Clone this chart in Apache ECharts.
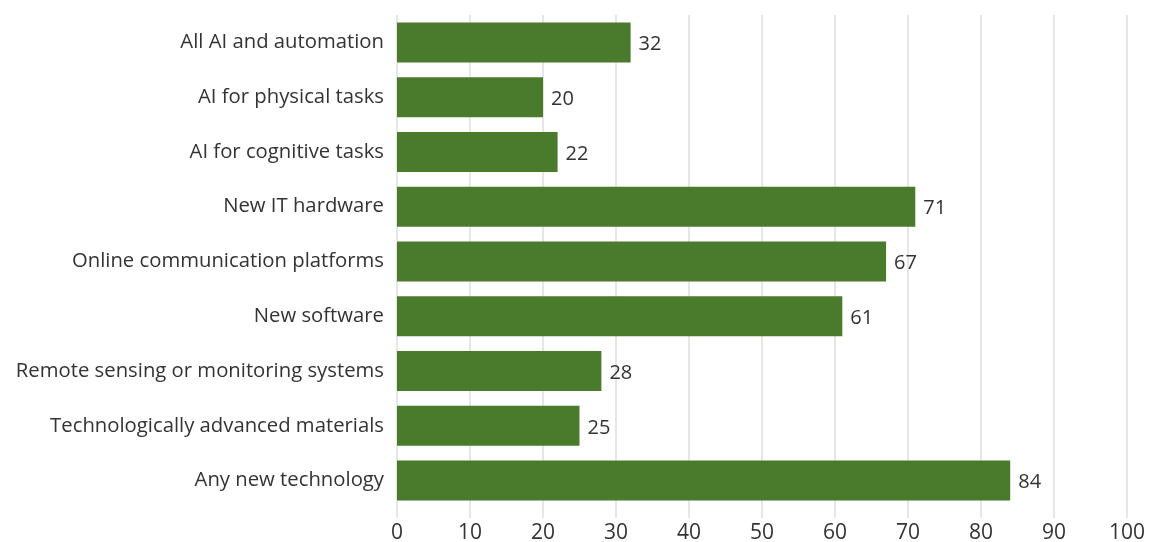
<!DOCTYPE html>
<html>
<head>
<meta charset="utf-8">
<script src="https://cdn.jsdelivr.net/npm/echarts@6/dist/echarts.min.js"></script>
<style>
  html, body { margin: 0; padding: 0; background: #fff; }
  #chart { width: 1155px; height: 542px; }
</style>
</head>
<body>
<div id="chart"></div>
<script>
// Share of firms adopting each technology (%)
const categories = [
  'All AI and automation',
  'AI for physical tasks',
  'AI for cognitive tasks',
  'New IT hardware',
  'Online communication platforms',
  'New software',
  'Remote sensing or monitoring systems',
  'Technologically advanced materials',
  'Any new technology'
];
const values = [32, 20, 22, 71, 67, 61, 28, 25, 84];
const xTicks = [0, 10, 20, 30, 40, 50, 60, 70, 80, 90, 100];

const fontFamily = '"Open Sans", Lato, sans-serif';
const chart = echarts.init(document.getElementById('chart'));
chart.setOption({
  animation: false,
  grid: { left: 397, right: 28, top: 15, bottom: 34, containLabel: false, outerBoundsMode: 'none' },
  xAxis: {
    type: 'value',
    min: xTicks[0],
    max: xTicks[xTicks.length - 1],
    interval: 10,
    axisLine: { show: false },
    axisTick: { show: true, length: 10, lineStyle: { color: '#e6e6e6', width: 2 } },
    splitLine: { show: true, lineStyle: { color: '#e6e6e6', width: 2 } },
    axisLabel: { color: '#333', fontSize: 21, fontFamily, margin: 15 }
  },
  yAxis: {
    type: 'category',
    data: categories,
    inverse: true,
    axisLine: { show: false },
    axisTick: { show: false },
    axisLabel: { color: '#333', fontSize: 20.3, fontFamily, margin: 13 }
  },
  series: [{
    type: 'bar',
    data: values,
    barWidth: 40,
    itemStyle: { color: '#4a7b2c' },
    label: {
      show: true,
      position: 'right',
      distance: 8,
      color: '#333',
      fontSize: 20,
      fontFamily,
      offset: [0, 2]
    }
  }]
});
</script>
</body>
</html>
